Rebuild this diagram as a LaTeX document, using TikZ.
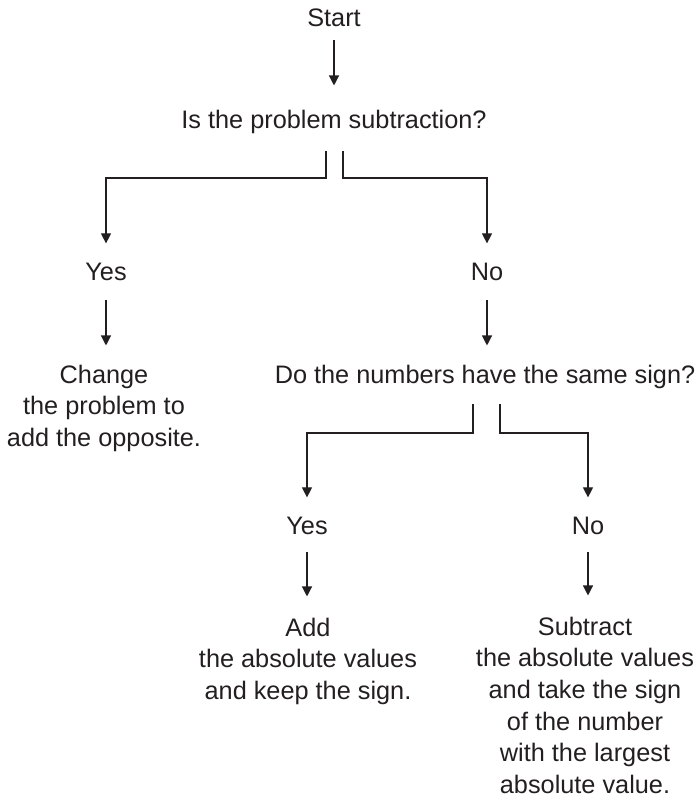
\documentclass[tikz,border=0pt]{standalone}
\usepackage{fontspec}
\setmainfont{Liberation Sans}
\usetikzlibrary{arrows.meta}
\definecolor{ink}{HTML}{231F20}
\begin{document}
\begin{tikzpicture}[x=1pt,y=-1pt,
  lbl/.style={anchor=base, inner sep=0pt, align=center, text=ink,
    font=\fontsize{25.3}{31.7}\selectfont},
  arr/.style={draw=ink, line width=1.2pt, -{Triangle[width=10pt,length=10pt]}},
  split/.style={draw=ink, line width=1.2pt, -{Triangle[width=10pt,length=10pt]}, shorten >=19pt}]
\useasboundingbox (0,0) rectangle (697,800);
% nodes (multi-line nodes are placed by the baseline of their last line)
\node[lbl] (start) at (334,27) {Start};
\node[lbl] (q1) at (334,128) {Is the problem subtraction?};
\node[lbl] (yes1) at (106,280) {Yes};
\node[lbl] (no1) at (487,280) {No};
\node[lbl] (change) at (104,446.4) {Change\\the problem to\\add the opposite.};
\node[lbl] (q2) at (485,383) {Do the numbers have the same sign?};
\node[lbl] (yes2) at (307,534) {Yes};
\node[lbl] (no2) at (588,534) {No};
\node[lbl] (add) at (308,699.4) {Add\\the absolute values\\and keep the sign.};
\node[lbl] (sub) at (585,793.5) {Subtract\\the absolute values\\and take the sign\\of the number\\with the largest\\absolute value.};
% connectors
\draw[arr, shorten <=13pt, shorten >=24pt] (start.south) -- (start.south |- q1.north);
\draw[split] ([xshift=-8pt,yshift=-23pt]q1.base) -- ++(0,27) -| (yes1);
\draw[split] ([xshift=9pt,yshift=-23pt]q1.base) -- ++(0,27) -| (no1);
\draw[arr, shorten <=20pt, shorten >=19pt] (yes1.south) -- (yes1.south |- change.north);
\draw[arr, shorten <=20pt, shorten >=19pt] (no1.south) -- (no1.south |- q2.north);
\draw[split] ([xshift=-12pt,yshift=-21pt]q2.base) -- ++(0,29) -| (yes2);
\draw[split] ([xshift=15pt,yshift=-21pt]q2.base) -- ++(0,29) -| (no2);
\draw[arr, shorten <=18pt, shorten >=21pt] (yes2.south) -- (yes2.south |- add.north);
\draw[arr, shorten <=18pt, shorten >=21pt] (no2.south) -- (no2.south |- sub.north);
\end{tikzpicture}
\end{document}
